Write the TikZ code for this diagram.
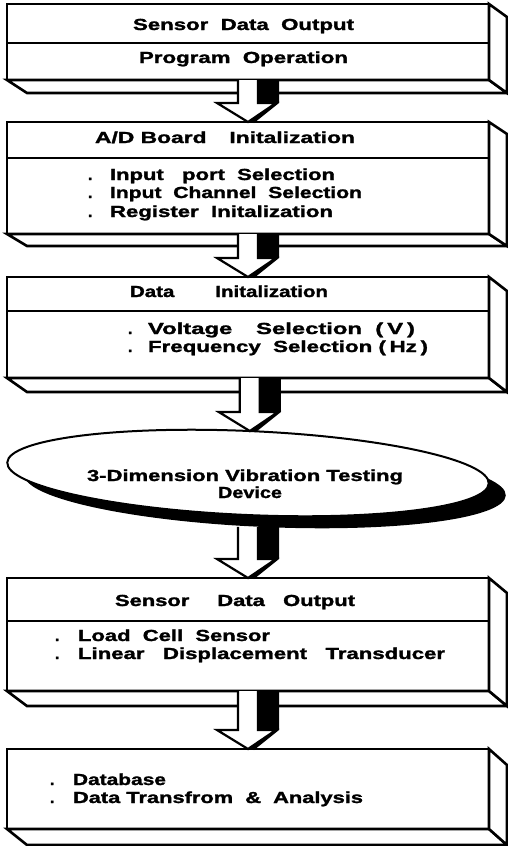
\documentclass[tikz,border=0pt]{standalone}
\usepackage{graphicx}
\usepackage{fontspec}
\setmainfont{Liberation Sans}[BoldFeatures={FakeBold=1.4}]
\usetikzlibrary{calc,shapes.geometric}

% stretch a label horizontally to a given width, keeping its height
\newcommand\fitw[2]{\resizebox{#1pt}{\height}{#2}}

\tikzset{
  front/.style={draw, line width=2.6pt, fill=white, rectangle, inner sep=0pt,
                outer sep=0pt, minimum width=482pt, anchor=north west},
  side/.style={draw, line width=2.6pt, fill=white, line join=miter},
  divider/.style={draw, line width=1.6pt},
  lbl/.style={anchor=base west, inner sep=0pt, outer sep=0pt,
              font=\fontsize{16}{19}\selectfont\bfseries},
  arrowbody/.style={draw, fill=white, line width=2.2pt, line join=miter},
  arrowshade/.style={fill=black},
  oval/.style={ellipse, inner sep=0pt, outer sep=0pt, minimum width=482pt,
               minimum height=84pt, rotate=-2.5},
}

% oblique bottom and right faces of a slab, depth given as #2
\newcommand\slab[2]{%
  \filldraw[side] (#1.south west) -- ([shift={(20,#2)}]#1.south west)
     -- ([shift={(18,#2)}]#1.south east) -- (#1.south east) -- cycle;
  \filldraw[side] (#1.north east) -- ([shift={(18,#2)}]#1.north east)
     -- ([shift={(18,#2)}]#1.south east) -- (#1.south east) -- cycle;
}

% hollow block arrow with a solid black side, from #2 down to #3
\newcommand\blockarrow[3]{%
  \coordinate (#1e) at (#3);
  \coordinate (#1s) at (#1e |- #2);
  \fill[arrowshade] ([shift={(10,0)}]#1s) -- ([shift={(31,0)}]#1s)
     -- ([shift={(31,-19)}]#1e) -- ([shift={(6,1)}]#1e) -- (#1e) -- cycle;
  \filldraw[arrowbody] ([shift={(-10,0)}]#1s) -- ([shift={(-10,-19)}]#1e)
     -- ([shift={(-31,-19)}]#1e) -- (#1e) -- ([shift={(28,-19)}]#1e)
     -- ([shift={(10,-19)}]#1e) -- ([shift={(10,0)}]#1s);
}

\begin{document}
\begin{tikzpicture}[x=1pt, y=-1pt]
\useasboundingbox (0,0) rectangle (508,846);
\fill[white] (0,0) rectangle (508,846);

% ---- slabs (front faces) ----
\node[front, minimum height=76pt]  (b1) at (7,4) {};
\node[front, minimum height=112pt] (b2) at (7,122) {};
\node[front, minimum height=101pt] (b3) at (7,277) {};
\node[front, minimum height=113pt] (b4) at (7,578) {};
\node[front, minimum height=80pt]  (b5) at (7,749) {};

\slab{b1}{13}
\slab{b2}{12}
\slab{b3}{14}
\slab{b4}{15}
\slab{b5}{16}

% header dividers
\draw[divider] (b1.west |- 0,43)  -- (b1.east |- 0,43);
\draw[divider] (b2.west |- 0,158) -- (b2.east |- 0,158);
\draw[divider] (b3.west |- 0,311) -- (b3.east |- 0,311);
\draw[divider] (b4.west |- 0,621) -- (b4.east |- 0,621);

% ---- test device oval with its shadow ----
\node[oval, fill=black] (devsh) at (265,485) {};
\node[oval, draw, line width=2pt, fill=white] (dev) at (248,473) {};
\coordinate (devlow) at ([shift={(17,12)}]dev.south);

% ---- arrows ----
\blockarrow{a1}{b1.south}{b2.north}
\blockarrow{a2}{b2.south}{b3.north}
\blockarrow{a3}{b3.south}{dev.north}
\blockarrow{a4}{devlow}{b4.north}
\blockarrow{a5}{b4.south}{b5.north}

% ---- labels ----
\node[lbl] (t11) at (133,30) {\fitw{221}{Sensor\ \ Data\ \ Output}};
\node[lbl] (t12) at (139,63) {\fitw{209}{Program\ \ Operation}};

\node[lbl] (t21) at (95,143) {\fitw{260}{A/D\ Board\quad Initalization}};
\node[lbl] (d22) at (88,180) {.};
\node[lbl] (d23) at (88,198) {.};
\node[lbl] (d24) at (88,217) {.};
\node[lbl] (t22) at (110,180) {\fitw{225}{Input\ \ \ port\ \ Selection}};
\node[lbl] (t23) at (110,198) {\fitw{252}{Input\ \ Channel\ \ Selection}};
\node[lbl] (t24) at (110,217) {\fitw{223}{Register\ \ Initalization}};

\node[lbl] (t31) at (130,297) {\fitw{198}{Data\qquad Initalization}};
\node[lbl] (d32) at (128,334) {.};
\node[lbl] (d33) at (128,352) {.};
\node[lbl] (t32) at (148,334) {\fitw{267}{Voltage\quad Selection\ \ (\,V\,)}};
\node[lbl] (t33) at (148,352) {\fitw{280}{Frequency\ \ Selection\ (\,Hz\,)}};

\node[lbl] (t41) at (87,481)  {\fitw{316}{3-Dimension Vibration Testing}};
\node[lbl] (t42) at (218,498) {\fitw{64}{Device}};

\node[lbl] (t51) at (115,606) {\fitw{240}{Sensor\quad\ Data\ \ \ Output}};
\node[lbl] (d52) at (55,641) {.};
\node[lbl] (d53) at (55,659) {.};
\node[lbl] (t52) at (78,641) {\fitw{192}{Load\ \ Cell\ \ Sensor}};
\node[lbl] (t53) at (78,659) {\fitw{367}{Linear\ \ \ Displacement\ \ \ Transducer}};

\node[lbl] (d62) at (50,785) {.};
\node[lbl] (d63) at (50,803) {.};
\node[lbl] (t62) at (73,785) {\fitw{93}{Database}};
\node[lbl] (t63) at (73,803) {\fitw{290}{Data Transfrom\ \ \&\ \ Analysis}};
\end{tikzpicture}
\end{document}
